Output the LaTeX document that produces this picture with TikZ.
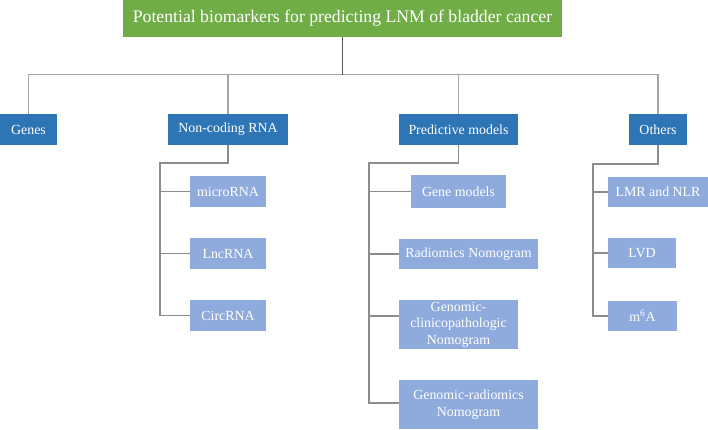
\documentclass[tikz,border=0pt]{standalone}
\usepackage{fontspec}
\setmainfont{Liberation Serif}
\definecolor{rootgreen}{HTML}{70AD47}
\definecolor{lvone}{HTML}{2E75B6}
\definecolor{lvtwo}{HTML}{8FAADC}
\definecolor{conn}{HTML}{A6A6A6}
\definecolor{conndark}{HTML}{595959}
\definecolor{connmid}{HTML}{8C8C8C}
\tikzset{
  basebox/.style={rectangle, inner sep=0pt, text=white, align=center, font=\fontsize{13.9}{16.5}\selectfont},
  rootbox/.style={basebox, fill=rootgreen, font=\fontsize{17.7}{21}\selectfont},
  onebox/.style={basebox, fill=lvone},
  twobox/.style={basebox, fill=lvtwo},
  link/.style={draw=conn, line width=1.4pt},
  rootlink/.style={draw=conndark, line width=1pt},
  sublink/.style={draw=connmid, line width=1.1pt}
}
\begin{document}
\begin{tikzpicture}[x=1pt, y=-1pt]
\useasboundingbox (0,0) rectangle (708,429);
% root
\node[rootbox, minimum width=439pt, minimum height=37pt] (root) at (342.5,18.5) {Potential biomarkers for predicting LNM of bladder cancer};
% level 1
\node[onebox, minimum width=57pt, minimum height=31pt] (genes) at (28.5,129.5) {Genes};
\node[onebox, minimum width=120pt, minimum height=31pt] (ncrna) at (228,129.5) {Non-coding RNA};
\node[onebox, minimum width=119pt, minimum height=31pt] (pred) at (458.5,129.5) {Predictive models};
\node[onebox, minimum width=58pt, minimum height=31pt] (others) at (658,129.5) {Others};
% level 2: non-coding
\node[twobox, minimum width=76pt, minimum height=31pt] (micro) at (228,191.5) {microRNA};
\node[twobox, minimum width=76pt, minimum height=31pt] (lnc) at (228,253.5) {LncRNA};
\node[twobox, minimum width=76pt, minimum height=31pt] (circ) at (228,315.5) {CircRNA};
% level 2: predictive
\node[twobox, minimum width=95pt, minimum height=33pt] (genemod) at (458.5,191.5) {Gene models};
\node[twobox, minimum width=139pt, minimum height=30pt] (radnomo) at (468.5,254) {Radiomics Nomogram};
\node[twobox, minimum width=119pt, minimum height=49pt] (genclin) at (458.5,324.5) {Genomic-\\clinicopathologic\\Nomogram};
\node[twobox, minimum width=139pt, minimum height=49pt] (genrad) at (468.5,404.5) {Genomic-radiomics\\Nomogram};
% level 2: others
\node[twobox, minimum width=100pt, minimum height=30pt] (lmr) at (658,192) {LMR and NLR};
\node[twobox, minimum width=68pt, minimum height=30pt] (lvd) at (642,253) {LVD};
\node[twobox, minimum width=69pt, minimum height=30pt] (msixa) at (642.5,316) {m\textsuperscript{6}A};
% connectors level 0-1
\coordinate (bus) at (0,74.5);
\draw[link] (genes.north) -- (genes.north |- bus) -| (others.north);
\draw[link] (ncrna.north) -- (ncrna.north |- bus);
\draw[link] (pred.north) -- (pred.north |- bus);
\draw[rootlink] (root.south) -- (root.south |- bus);
% non-coding branch
\coordinate (ncl) at (160,163);
\coordinate (ncbot) at (160,315.5);
\draw[sublink] (ncrna.south) |- (ncl) -- (ncbot) -- (circ.west);
\draw[sublink] (ncl |- micro) -- (micro.west);
\draw[sublink] (ncl |- lnc) -- (lnc.west);
% predictive branch
\coordinate (prl) at (369,163);
\coordinate (prbot) at (369,403);
\coordinate (gcy) at (0,316);
\draw[sublink] (pred.south) |- (prl) -- (prbot) -- (prbot -| genrad.west);
\draw[sublink] (prl |- genemod) -- (genemod.west);
\draw[sublink] (prl |- radnomo) -- (radnomo.west);
\draw[sublink] (prl |- gcy) -- (gcy -| genclin.west);
% others branch
\coordinate (otl) at (593,164);
\coordinate (otbot) at (593,316);
\draw[sublink] (others.south) |- (otl) -- (otbot) -- (msixa.west);
\draw[sublink] (otl |- lmr) -- (lmr.west);
\draw[sublink] (otl |- lvd) -- (lvd.west);
\end{tikzpicture}
\end{document}
